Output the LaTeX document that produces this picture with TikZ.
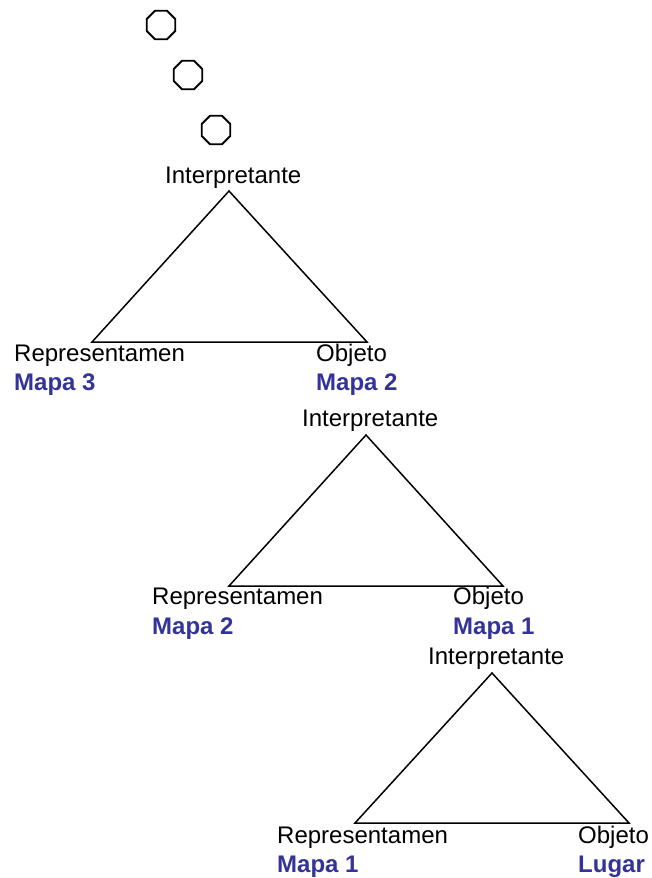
\documentclass[tikz,border=0pt]{standalone}
\usepackage{fontspec}
\setmainfont{Liberation Sans}
\usetikzlibrary{shapes.geometric}
\definecolor{mapablue}{RGB}{51,51,153}
\begin{document}
\begin{tikzpicture}[x=1pt,y=-1pt,
  lbl/.style={anchor=base west,inner sep=0pt,font=\fontsize{24}{28}\selectfont},
  maplbl/.style={lbl,font=\fontsize{24}{28}\selectfont\bfseries,text=mapablue},
  tri/.style={draw=black,line width=1.5pt,line join=miter},
  octo/.style={draw=black,line width=1.8pt,regular polygon,regular polygon sides=8,minimum size=31pt,inner sep=0pt}]
\useasboundingbox (0,0) rectangle (652,878);
% octagons
\node[octo] (o1) at (161,25) {};
\node[octo] (o2) at (188,75) {};
\node[octo] (o3) at (216,130) {};
% triangle 1
\coordinate (a1) at (229,191);
\coordinate (b1) at (92,342);
\coordinate (c1) at (367,342);
\draw[tri] (a1) -- (b1) -- (c1) -- cycle;
\node[lbl] (i1) at (165,183) {Interpretante};
\node[lbl] (r1) at (14,361) {Representamen};
\node[maplbl] (m1) at (14,390) {Mapa 3};
\node[lbl] (ob1) at (316,361) {Objeto};
\node[maplbl] (n1) at (316,390) {Mapa 2};
% triangle 2
\coordinate (a2) at (366,435);
\coordinate (b2) at (229,586);
\coordinate (c2) at (503,586);
\draw[tri] (a2) -- (b2) -- (c2) -- cycle;
\node[lbl] (i2) at (302,426) {Interpretante};
\node[lbl] (r2) at (152,604) {Representamen};
\node[maplbl] (m2) at (152,634) {Mapa 2};
\node[lbl] (ob2) at (453,604) {Objeto};
\node[maplbl] (n2) at (453,634) {Mapa 1};
% triangle 3
\coordinate (a3) at (492,673);
\coordinate (b3) at (355,823);
\coordinate (c3) at (629,823);
\draw[tri] (a3) -- (b3) -- (c3) -- cycle;
\node[lbl] (i3) at (428,664) {Interpretante};
\node[lbl] (r3) at (277,843) {Representamen};
\node[maplbl] (m3) at (277,872) {Mapa 1};
\node[lbl] (ob3) at (578,843) {Objeto};
\node[maplbl] (n3) at (578,872) {Lugar};
\end{tikzpicture}
\end{document}
